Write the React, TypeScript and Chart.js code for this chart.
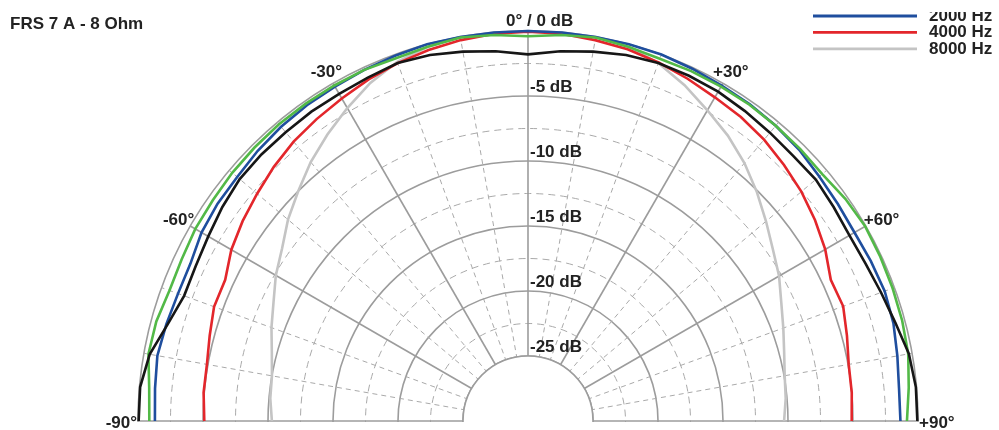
import React, { useEffect, useRef } from 'react';
import { Chart, registerables } from 'chart.js';

Chart.register(...registerables);

// Polar response of the FRS 7 A (8 Ohm), levels in dB relative to on-axis.
const TITLE = 'FRS 7 A - 8 Ohm';

// Measurement angles (degrees, negative = left of axis).
const ANGLES = [
  -90, -85, -80, -75, -70, -65, -60, -55, -50, -45, -40, -35, -30, -25, -20, -15, -10, -5,
  0, 5, 10, 15, 20, 25, 30, 35, 40, 45, 50, 55, 60, 65, 70, 75, 80, 85, 90,
];

const SERIES_NAMES = ['500 Hz', '1000 Hz', '2000 Hz', '4000 Hz', '8000 Hz'];
const SERIES_COLORS = ['#161616', '#52b947', '#1f4e9e', '#e3262b', '#c4c4c4'];

const LEVEL_500 = [
  -0.05, -0.05, -0.45, -1.3, -1.85, -1.8, -1.6, -1.3, -1.05, -1.0, -1.0, -0.95, -0.95, -0.85, -0.7, -0.85, -1.15, -1.45,
  -1.8, -1.45, -1.15, -0.85, -0.7, -0.7, -0.75, -0.9, -1.05, -1.15, -1.1, -1.3, -1.45, -1.35, -1.1, -0.75, -0.25, -0.05, -0.05,
];
const LEVEL_1000 = [
  -0.87, -0.75, -0.35, -0.4, -0.65, -0.6, -0.45, -0.4, -0.3, -0.25, -0.2, -0.2, -0.2, -0.2, -0.3, -0.2, -0.05, -0.2,
  -0.4, -0.2, -0.05, -0.2, -0.35, -0.3, -0.3, -0.3, -0.35, -0.4, -0.45, -0.2, -0.05, -0.1, -0.15, -0.2, -0.3, -0.6, -0.85,
];
const LEVEL_2000 = [
  -1.3, -1.2, -1.05, -1.2, -1.35, -1.35, -1.0, -0.85, -0.8, -0.6, -0.45, -0.35, -0.3, -0.2, -0.1, 0, 0, 0,
  0, 0, 0, 0, 0, -0.1, -0.2, -0.25, -0.35, -0.5, -0.75, -0.9, -1.0, -0.9, -0.8, -0.9, -1.15, -1.35, -1.35,
];
const LEVEL_4000 = [
  -5.1, -4.95, -4.92, -4.65, -4.3, -4.3, -3.65, -3.2, -2.8, -2.35, -1.95, -1.65, -1.35, -1.0, -0.7, -0.45, -0.25, -0.1,
  -0.05, -0.1, -0.25, -0.4, -0.65, -0.95, -1.25, -1.45, -1.75, -2.15, -2.55, -3.05, -3.6, -4.3, -4.2, -4.6, -4.95, -5.0, -5.1,
];
const LEVEL_8000 = [
  -10.3, -10.1, -10.0, -9.6, -9.0, -8.4, -7.6, -6.9, -5.9, -5.0, -4.0, -3.1, -2.2, -1.3, -0.6, -0.2, 0, 0,
  0, 0, 0, -0.2, -0.7, -1.5, -2.4, -3.2, -4.1, -5.1, -6.1, -7.0, -7.7, -8.5, -9.1, -9.6, -9.95, -10.1, -10.3,
];
const SERIES_LEVELS = [LEVEL_500, LEVEL_1000, LEVEL_2000, LEVEL_4000, LEVEL_8000];

// Radial axis (dB) and angular axis settings.
const DB_MIN = -30;
const DB_MAX = 0;
const DB_STEP = 2.5;
const DB_INNER = -25;
const DB_LABELS = [-5, -10, -15, -20, -25];
const ANGLE_STEP = 5;
const ANGLE_LABELS = [-90, -60, -30, 30, 60, 90];

const FONT = "bold 17px 'Liberation Sans', Arial, sans-serif";
const TEXT_COLOR = '#222222';
const GRID_SOLID = '#9c9c9c';
const GRID_DASHED = '#a9a9a9';

const signedAngle = (index: number) => {
  const a = index * ANGLE_STEP;
  return a > 180 ? a - 360 : a;
};

// Full-turn label list for the radial scale (one spoke every ANGLE_STEP degrees).
const SPOKES = Array.from({ length: 360 / ANGLE_STEP }, (_, i) => signedAngle(i));

const toSpokes = (levels: number[]) => {
  const out: (number | null)[] = SPOKES.map(() => null);
  ANGLES.forEach((a, k) => {
    const idx = ((a / ANGLE_STEP) + SPOKES.length) % SPOKES.length;
    out[idx] = levels[k];
  });
  return out;
};

// Where each angle caption sits relative to the spoke end on the 0 dB ring.
const ANGLE_LABEL_OFFSET: Record<number, [number, number]> = {
  [-90]: [-1, 7],
  [-60]: [4, -1],
  [-30]: [9, -6],
  [30]: [-10, -6],
  [60]: [-2, -1],
  [90]: [1, 7],
};

const polarDecor = {
  id: 'polarDecor',
  beforeDatasetsDraw(chart: any) {
    const s = chart.scales.r;
    const ctx = chart.ctx;
    const rIn = s.getDistanceFromCenterForValue(DB_INNER);
    ctx.save();
    ctx.fillStyle = '#ffffff';
    ctx.beginPath();
    ctx.arc(s.xCenter, s.yCenter, rIn, 0, Math.PI * 2);
    ctx.fill();
    ctx.strokeStyle = GRID_SOLID;
    ctx.lineWidth = 1.6;
    ctx.beginPath();
    ctx.arc(s.xCenter, s.yCenter, rIn, 0, Math.PI * 2);
    ctx.stroke();
    ctx.restore();
  },
  afterDraw(chart: any) {
    const s = chart.scales.r;
    const ctx = chart.ctx;
    const xC = s.xCenter;
    const yC = s.yCenter;
    const R = s.getDistanceFromCenterForValue(DB_MAX);
    ctx.save();
    // lower half stays empty
    ctx.fillStyle = '#ffffff';
    ctx.fillRect(0, yC + 1, chart.width, chart.height - yC);

    ctx.font = FONT;
    ctx.fillStyle = TEXT_COLOR;
    ctx.textBaseline = 'alphabetic';

    ctx.textAlign = 'left';
    ctx.fillText(TITLE, 10, 29);
    ctx.fillText('0° / 0 dB', xC - 22, yC - R - 5);

    DB_LABELS.forEach((v) => {
      const r = s.getDistanceFromCenterForValue(v);
      ctx.fillText(`${v} dB`, xC + 2, yC - r - 4);
    });

    ANGLE_LABELS.forEach((a) => {
      const idx = ((a / ANGLE_STEP) + SPOKES.length) % SPOKES.length;
      const p = s.getPointPositionForValue(idx, DB_MAX);
      const [dx, dy] = ANGLE_LABEL_OFFSET[a];
      ctx.textAlign = a < 0 ? 'right' : 'left';
      ctx.fillText(`${a > 0 ? '+' : ''}${a}°`, p.x + dx, p.y + dy);
    });

    // legend, top right (upper entries run off the top edge)
    ctx.beginPath();
    ctx.rect(0, 12, chart.width, chart.height);
    ctx.clip();
    ctx.textAlign = 'left';
    SERIES_NAMES.forEach((name, i) => {
      const y = 16 + (i - 2) * 16.4;
      ctx.strokeStyle = SERIES_COLORS[i];
      ctx.lineWidth = 2.8;
      ctx.beginPath();
      ctx.moveTo(813, y);
      ctx.lineTo(917, y);
      ctx.stroke();
      ctx.fillStyle = TEXT_COLOR;
      ctx.fillText(name, 929, y + 5);
    });
    ctx.restore();
  },
};

export default function App() {
  const canvasRef = useRef<HTMLCanvasElement | null>(null);

  useEffect(() => {
    if (!canvasRef.current) return;
    const chart = new Chart(canvasRef.current, {
      type: 'radar',
      data: {
        labels: SPOKES,
        datasets: SERIES_NAMES.map((name, i) => ({
          label: name,
          data: toSpokes(SERIES_LEVELS[i]),
          borderColor: SERIES_COLORS[i],
          backgroundColor: SERIES_COLORS[i],
          borderWidth: 2.6,
          fill: false,
          spanGaps: false,
          pointRadius: 0,
          pointHoverRadius: 0,
          tension: 0,
        })),
      },
      options: {
        responsive: false,
        animation: false,
        events: [],
        layout: { padding: { left: 138, right: 81, top: 31, bottom: 0 } },
        plugins: {
          legend: { display: false },
          title: { display: false },
          tooltip: { enabled: false },
        },
        scales: {
          r: {
            min: DB_MIN,
            max: DB_MAX,
            startAngle: 0,
            ticks: { display: false, stepSize: DB_STEP },
            pointLabels: { display: false },
            grid: {
              circular: true,
              color: (c: any) => (c.tick.value % 5 === 0 ? GRID_SOLID : GRID_DASHED),
              lineWidth: (c: any) => (c.tick.value < DB_INNER ? 0 : c.tick.value % 5 === 0 ? 1.6 : 1),
            },
            border: {
              dash: (c: any) => (c.tick && c.tick.value % 5 !== 0 ? [7, 5] : []),
            },
            angleLines: {
              color: (c: any) => (signedAngle(c.index) % 30 === 0 ? GRID_SOLID : GRID_DASHED),
              lineWidth: (c: any) => {
                const a = signedAngle(c.index);
                if (a % 30 === 0) return 1.6;
                if (a % 10 === 0) return 1;
                return 0;
              },
              borderDash: (c: any) => (signedAngle(c.index) % 30 === 0 ? [] : [5, 4]),
            },
          },
        },
      } as any,
      plugins: [polarDecor],
    });
    return () => chart.destroy();
  }, []);

  return (
    <div
      style={{
        position: 'fixed',
        left: 0,
        top: 0,
        width: 999,
        height: 430,
        overflow: 'hidden',
        background: '#ffffff',
      }}
    >
      <canvas ref={canvasRef} width={999} height={811} style={{ display: 'block' }} />
    </div>
  );
}
